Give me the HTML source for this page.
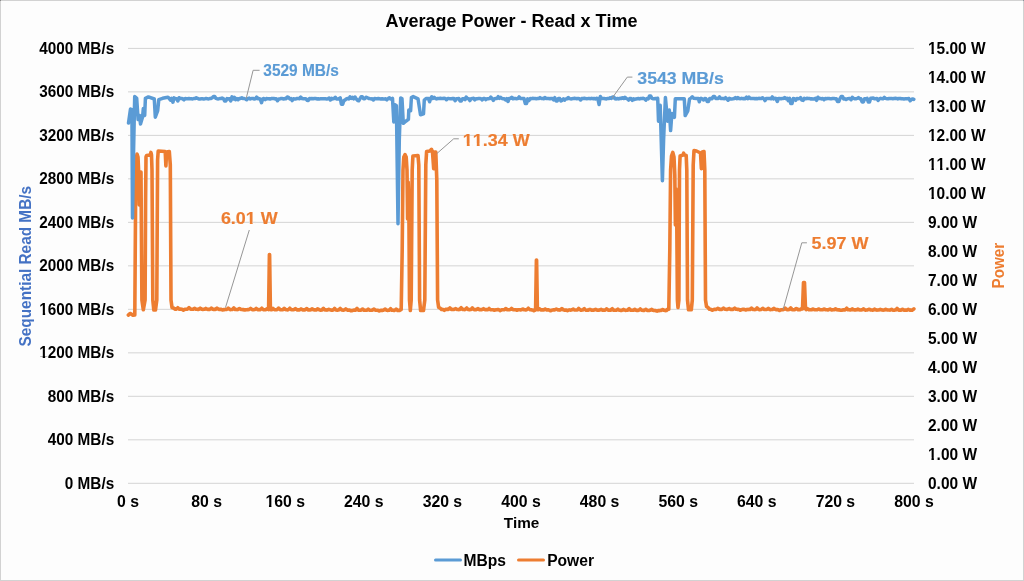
<!DOCTYPE html>
<html><head><meta charset="utf-8"><style>
html,body{margin:0;padding:0;background:#fdfdfd;}
svg{display:block;will-change:transform;}
text{font-family:"Liberation Sans",sans-serif;font-weight:bold;font-kerning:none;}
</style></head><body>
<svg width="1024" height="581" viewBox="0 0 1024 581">
<rect x="0" y="0" width="1024" height="581" fill="#fdfdfd"/>
<rect x="0.5" y="0.5" width="1023" height="580" fill="none" stroke="#d2d2d2" stroke-width="1"/>
<rect x="0" y="0" width="1" height="1" fill="#8a8a8a"/>
<rect x="1023" y="0" width="1" height="1" fill="#8a94a0"/>
<g stroke="#d4d4d4" stroke-width="1" fill="none"><line x1="128" y1="48.40" x2="914" y2="48.40"/><line x1="128" y1="91.89" x2="914" y2="91.89"/><line x1="128" y1="135.38" x2="914" y2="135.38"/><line x1="128" y1="178.87" x2="914" y2="178.87"/><line x1="128" y1="222.36" x2="914" y2="222.36"/><line x1="128" y1="265.85" x2="914" y2="265.85"/><line x1="128" y1="309.34" x2="914" y2="309.34"/><line x1="128" y1="352.83" x2="914" y2="352.83"/><line x1="128" y1="396.32" x2="914" y2="396.32"/><line x1="128" y1="439.81" x2="914" y2="439.81"/><line x1="128" y1="483.30" x2="914" y2="483.30"/></g>
<text x="511.5" y="27" font-size="18" text-anchor="middle" fill="#000">Average Power - Read x Time</text>
<g id="gl" font-size="15.8" fill="#000" text-anchor="end" transform="translate(114.2,0) scale(0.97,1) translate(-114.2,0)"><text x="114.2" y="54.0">4000 MB/s</text><text x="114.2" y="97.5">3600 MB/s</text><text x="114.2" y="141.0">3200 MB/s</text><text x="114.2" y="184.5">2800 MB/s</text><text x="114.2" y="228.0">2400 MB/s</text><text x="114.2" y="271.5">2000 MB/s</text><text x="114.2" y="314.9">1600 MB/s</text><text x="114.2" y="358.4">1200 MB/s</text><text x="114.2" y="401.9">800 MB/s</text><text x="114.2" y="445.4">400 MB/s</text><text x="114.2" y="488.9">0 MB/s</text><rect x="37.06" y="312.85" width="3.46" height="2.95" fill="#fdfdfd"/><rect x="43.00" y="312.85" width="2.88" height="2.95" fill="#fdfdfd"/><rect x="37.06" y="356.35" width="3.46" height="2.95" fill="#fdfdfd"/><rect x="43.00" y="356.35" width="2.88" height="2.95" fill="#fdfdfd"/></g>
<g id="gr" font-size="15.8" fill="#000" transform="translate(928,0) scale(0.98,1) translate(-928,0)"><text x="928" y="53.7">15.00 W</text><text x="928" y="82.7">14.00 W</text><text x="928" y="111.7">13.00 W</text><text x="928" y="140.7">12.00 W</text><text x="928" y="169.7">11.00 W</text><text x="928" y="198.7">10.00 W</text><text x="928" y="227.7">9.00 W</text><text x="928" y="256.7">8.00 W</text><text x="928" y="285.6">7.00 W</text><text x="928" y="314.6">6.00 W</text><text x="928" y="343.6">5.00 W</text><text x="928" y="372.6">4.00 W</text><text x="928" y="401.6">3.00 W</text><text x="928" y="430.6">2.00 W</text><text x="928" y="459.6">1.00 W</text><text x="928" y="488.6">0.00 W</text><rect x="928.07" y="51.65" width="3.46" height="2.95" fill="#fdfdfd"/><rect x="934.01" y="51.65" width="2.88" height="2.95" fill="#fdfdfd"/><rect x="928.07" y="80.65" width="3.46" height="2.95" fill="#fdfdfd"/><rect x="934.01" y="80.65" width="2.88" height="2.95" fill="#fdfdfd"/><rect x="928.07" y="109.65" width="3.46" height="2.95" fill="#fdfdfd"/><rect x="934.01" y="109.65" width="2.88" height="2.95" fill="#fdfdfd"/><rect x="928.07" y="138.65" width="3.46" height="2.95" fill="#fdfdfd"/><rect x="934.01" y="138.65" width="2.88" height="2.95" fill="#fdfdfd"/><rect x="928.07" y="167.65" width="3.46" height="2.95" fill="#fdfdfd"/><rect x="934.01" y="167.65" width="2.88" height="2.95" fill="#fdfdfd"/><rect x="936.84" y="167.65" width="3.46" height="2.95" fill="#fdfdfd"/><rect x="942.78" y="167.65" width="2.88" height="2.95" fill="#fdfdfd"/><rect x="928.07" y="196.65" width="3.46" height="2.95" fill="#fdfdfd"/><rect x="934.01" y="196.65" width="2.88" height="2.95" fill="#fdfdfd"/><rect x="928.07" y="457.55" width="3.46" height="2.95" fill="#fdfdfd"/><rect x="934.01" y="457.55" width="2.88" height="2.95" fill="#fdfdfd"/></g>
<g id="gx" font-size="15.8" fill="#000" text-anchor="middle"><text x="128.0" y="507">0 s</text><text x="206.6" y="507">80 s</text><text x="285.2" y="507">160 s</text><text x="363.8" y="507">240 s</text><text x="442.4" y="507">320 s</text><text x="521.0" y="507">400 s</text><text x="599.6" y="507">480 s</text><text x="678.2" y="507">560 s</text><text x="756.8" y="507">640 s</text><text x="835.4" y="507">720 s</text><text x="914.0" y="507">800 s</text><rect x="265.50" y="504.95" width="3.46" height="2.95" fill="#fdfdfd"/><rect x="271.44" y="504.95" width="2.88" height="2.95" fill="#fdfdfd"/></g>
<text x="521.5" y="528" font-size="15.3" text-anchor="middle" fill="#000">Time</text>
<text transform="translate(31,266.2) rotate(-90)" font-size="15.9" text-anchor="middle" fill="#4472c4" textLength="160.5" lengthAdjust="spacingAndGlyphs">Sequential Read MB/s</text>
<text transform="translate(1003.8,265.7) rotate(-90)" font-size="15.9" text-anchor="middle" fill="#ed7d31" textLength="45.5" lengthAdjust="spacingAndGlyphs">Power</text>
<g fill="none" stroke-linejoin="round" stroke-linecap="round">
<path d="M128.3 315.1 L130.0 313.5 L131.5 314.2 L133.0 315.3 L134.8 315.0 L135.6 200.0 L136.2 160.0 L137.0 154.0 L138.0 157.0 L138.8 175.0 L139.3 205.0 L139.8 180.0 L140.2 172.0 L141.0 172.0 L141.4 230.0 L141.9 300.0 L143.3 309.8 L145.1 300.0 L145.6 200.0 L146.0 157.0 L146.5 155.5 L150.2 155.0 L150.9 152.4 L151.5 155.0 L152.0 170.0 L152.8 300.0 L153.8 310.0 L155.5 310.0 L156.8 300.0 L157.6 160.0 L158.2 151.0 L165.2 151.5 L165.9 166.0 L166.6 152.0 L169.3 151.5 L170.3 165.0 L171.0 300.0 L172.0 307.5 L173.5 308.0 L175.0 309.2 L175.7 309.3 L176.4 309.0 L177.1 308.4 L177.8 307.7 L178.5 308.5 L179.2 309.2 L179.9 309.3 L180.6 309.1 L181.3 309.3 L182.0 309.2 L182.7 309.7 L183.4 310.1 L184.1 309.7 L184.8 309.4 L185.5 309.3 L186.2 309.3 L186.9 309.2 L187.6 309.0 L188.3 308.3 L189.0 307.7 L189.7 308.3 L190.4 309.1 L191.1 309.3 L191.8 309.2 L192.5 309.3 L193.2 309.2 L193.9 308.7 L194.6 308.4 L195.3 308.8 L196.0 309.3 L196.7 309.3 L197.4 309.2 L198.1 309.4 L198.8 309.2 L199.5 308.7 L200.2 308.2 L200.9 308.6 L201.6 309.3 L202.3 309.2 L203.0 309.4 L203.7 309.3 L204.4 309.3 L205.1 309.0 L205.8 308.4 L206.5 308.9 L207.2 309.3 L207.9 309.4 L208.6 309.3 L209.3 309.5 L210.0 309.2 L210.7 308.8 L211.4 308.1 L212.1 308.7 L212.8 309.3 L213.5 309.4 L214.2 309.3 L214.9 309.5 L215.6 309.3 L216.3 308.7 L217.0 308.1 L217.7 308.6 L218.4 309.3 L219.1 309.4 L219.8 309.5 L220.5 309.3 L221.2 309.4 L221.9 309.7 L222.6 310.0 L223.3 309.7 L224.0 309.5 L224.7 309.6 L225.4 309.4 L226.1 309.5 L226.8 309.4 L227.5 308.9 L228.2 308.2 L228.9 308.8 L229.6 309.3 L230.3 309.6 L231.0 309.5 L231.7 309.5 L232.4 309.4 L233.1 308.7 L233.8 307.9 L234.5 308.7 L235.2 309.5 L235.9 309.5 L236.6 309.5 L237.3 309.6 L238.0 309.4 L238.7 308.9 L239.4 308.5 L240.1 308.9 L240.8 309.5 L241.5 309.5 L242.2 309.5 L242.9 309.6 L243.6 309.5 L244.3 310.0 L245.0 310.0 L245.7 309.8 L246.4 309.7 L247.1 309.7 L247.8 309.6 L248.5 309.6 L249.2 309.4 L249.9 308.9 L250.6 308.4 L251.3 308.9 L252.0 309.5 L252.7 309.7 L253.4 309.7 L254.1 309.6 L254.8 309.4 L255.5 309.0 L256.2 308.4 L256.9 309.0 L257.6 309.6 L258.3 309.6 L259.0 309.7 L259.7 309.6 L260.4 309.6 L261.1 308.9 L261.8 308.2 L262.5 308.9 L263.2 309.6 L263.9 309.7 L264.6 309.7 L265.3 309.7 L266.0 309.5 L266.7 309.0 L267.4 308.6 L268.1 309.1 L268.6 309.6 L269.4 254.5 L269.6 254.5 L270.4 309.6 L270.9 309.7 L271.6 309.7 L272.3 309.2 L273.0 308.4 L273.7 309.1 L274.4 309.7 L275.1 309.7 L275.8 309.7 L276.5 309.7 L277.2 309.5 L277.9 308.8 L278.6 308.1 L279.3 308.8 L280.0 309.5 L280.7 309.8 L281.4 309.8 L282.1 309.8 L282.8 309.7 L283.5 309.0 L284.2 308.3 L284.9 309.1 L285.6 309.6 L286.3 309.8 L287.0 309.8 L287.7 309.9 L288.4 309.6 L289.1 308.9 L289.8 308.2 L290.5 309.0 L291.2 309.6 L291.9 309.8 L292.6 309.8 L293.3 309.8 L294.0 309.6 L294.7 309.1 L295.4 308.5 L296.1 309.1 L296.8 309.7 L297.5 309.9 L298.2 309.8 L298.9 309.9 L299.6 309.9 L300.3 309.4 L301.0 308.9 L301.7 309.4 L302.4 309.7 L303.1 310.0 L303.8 309.9 L304.5 310.0 L305.2 309.8 L305.9 309.1 L306.6 308.5 L307.3 309.0 L308.0 309.9 L308.7 309.9 L309.4 310.0 L310.1 309.9 L310.8 309.8 L311.5 309.3 L312.2 308.8 L312.9 309.4 L313.6 309.8 L314.3 309.9 L315.0 309.9 L315.7 310.0 L316.4 309.9 L317.1 309.3 L317.8 308.8 L318.5 309.4 L319.2 309.8 L319.9 310.0 L320.6 310.1 L321.3 310.1 L322.0 309.9 L322.7 309.0 L323.4 308.3 L324.1 309.3 L324.8 309.9 L325.5 309.9 L326.2 309.9 L326.9 310.1 L327.6 309.9 L328.3 309.5 L329.0 309.3 L329.7 309.6 L330.4 309.9 L331.1 310.1 L331.8 310.1 L332.5 310.1 L333.2 310.0 L333.9 309.3 L334.6 308.4 L335.3 309.2 L336.0 309.9 L336.7 310.1 L337.4 310.1 L338.1 310.0 L338.8 309.9 L339.5 309.1 L340.2 308.4 L340.9 309.1 L341.6 309.9 L342.3 310.0 L343.0 310.1 L343.7 310.2 L344.4 309.9 L345.1 309.5 L345.8 308.9 L346.5 309.4 L347.2 310.0 L347.9 310.2 L348.6 310.1 L349.3 310.0 L350.0 310.2 L350.7 310.6 L351.4 310.7 L352.1 310.6 L352.8 310.3 L353.5 310.3 L354.2 310.1 L354.9 310.1 L355.6 310.1 L356.3 309.1 L357.0 308.4 L357.7 309.2 L358.4 310.0 L359.1 310.3 L359.8 310.2 L360.5 310.2 L361.2 310.0 L361.9 309.5 L362.6 309.0 L363.3 309.5 L364.0 310.2 L364.7 310.2 L365.4 310.3 L366.1 310.2 L366.8 310.1 L367.5 309.7 L368.2 309.1 L368.9 309.7 L369.6 310.1 L370.3 310.2 L371.0 310.2 L371.7 310.3 L372.4 310.0 L373.1 309.6 L373.8 309.0 L374.5 309.5 L375.2 310.0 L375.9 310.2 L376.6 310.2 L377.3 310.3 L378.0 310.4 L378.7 310.7 L379.4 310.9 L380.1 310.6 L380.8 310.4 L381.5 310.3 L382.2 310.4 L382.9 310.2 L383.6 310.2 L384.3 309.6 L385.0 309.0 L385.7 309.5 L386.4 310.1 L387.1 310.2 L387.8 310.4 L388.5 310.3 L389.2 310.3 L389.9 309.5 L390.6 308.7 L391.3 309.4 L392.0 310.2 L392.7 310.3 L393.4 310.3 L394.1 310.5 L394.8 310.2 L395.5 309.8 L396.2 309.1 L396.9 309.7 L397.6 310.4 L398.3 310.4 L399.0 310.5 L399.7 310.4 L400.0 310.0 L401.2 309.5 L402.2 250.0 L403.0 170.0 L403.8 157.0 L405.0 154.7 L406.2 157.0 L407.0 170.0 L407.6 219.0 L408.2 182.0 L408.8 200.0 L409.5 300.0 L410.3 310.5 L411.2 300.0 L412.2 170.0 L412.9 156.0 L418.0 155.5 L418.8 165.0 L419.6 300.0 L420.6 310.5 L423.5 310.5 L424.8 300.0 L425.8 165.0 L426.6 151.5 L430.0 150.9 L431.5 149.3 L432.5 152.0 L433.7 168.7 L434.6 152.0 L435.8 152.0 L436.8 180.0 L437.6 300.0 L438.6 307.3 L440.0 308.0 L441.5 309.5 L442.2 309.4 L442.9 309.5 L443.6 309.8 L444.3 310.3 L445.0 309.8 L445.7 309.4 L446.4 309.3 L447.1 309.3 L447.8 309.5 L448.5 309.2 L449.2 308.7 L449.9 307.9 L450.6 308.5 L451.3 309.4 L452.0 309.4 L452.7 309.5 L453.4 309.5 L454.1 309.4 L454.8 309.1 L455.5 308.6 L456.2 308.9 L456.9 309.4 L457.6 309.5 L458.3 309.5 L459.0 309.6 L459.7 309.4 L460.4 308.4 L461.1 307.7 L461.8 308.6 L462.5 309.4 L463.2 309.4 L463.9 309.5 L464.6 309.6 L465.3 309.4 L466.0 308.6 L466.7 308.0 L467.4 308.7 L468.1 309.4 L468.8 309.6 L469.5 309.5 L470.2 309.6 L470.9 309.4 L471.6 308.7 L472.3 307.9 L473.0 308.8 L473.7 309.5 L474.4 309.6 L475.1 309.6 L475.8 309.7 L476.5 309.5 L477.2 309.1 L477.9 308.5 L478.6 309.0 L479.3 309.6 L480.0 309.7 L480.7 309.6 L481.4 309.7 L482.1 309.5 L482.8 309.1 L483.5 308.6 L484.2 309.1 L484.9 309.6 L485.6 309.6 L486.3 309.5 L487.0 309.6 L487.7 309.6 L488.4 309.2 L489.1 308.5 L489.8 309.2 L490.5 309.6 L491.2 309.7 L491.9 309.7 L492.6 309.7 L493.3 309.8 L494.0 310.1 L494.7 310.2 L495.4 309.9 L496.1 309.7 L496.8 309.7 L497.5 309.6 L498.2 309.6 L498.9 309.8 L499.6 310.2 L500.3 310.6 L501.0 310.1 L501.7 309.7 L502.4 309.8 L503.1 309.8 L503.8 309.8 L504.5 309.7 L505.2 309.0 L505.9 308.5 L506.6 309.2 L507.3 309.7 L508.0 309.7 L508.7 309.7 L509.4 309.7 L510.1 309.5 L510.8 309.1 L511.5 308.4 L512.2 309.0 L512.9 309.6 L513.6 309.8 L514.3 309.7 L515.0 309.7 L515.7 309.7 L516.4 310.0 L517.1 310.3 L517.8 309.9 L518.5 309.8 L519.2 309.7 L519.9 309.8 L520.6 309.9 L521.3 309.8 L522.0 309.4 L522.7 309.1 L523.4 309.3 L524.1 309.8 L524.8 309.8 L525.5 309.9 L526.2 309.9 L526.9 309.6 L527.6 308.9 L528.3 308.2 L529.0 308.9 L529.7 309.6 L530.4 309.7 L531.1 309.8 L531.8 310.0 L532.5 310.0 L533.2 310.2 L533.9 310.7 L534.6 310.3 L535.6 309.8 L536.4 260.0 L536.6 260.0 L537.4 309.8 L538.1 309.8 L538.8 309.3 L539.5 308.9 L540.2 309.3 L540.9 309.9 L541.6 310.0 L542.3 309.8 L543.0 309.9 L543.7 309.9 L544.4 309.5 L545.1 309.0 L545.8 309.3 L546.5 309.9 L547.2 310.0 L547.9 309.8 L548.6 309.8 L549.3 310.1 L550.0 310.5 L550.7 310.8 L551.4 310.4 L552.1 310.0 L552.8 310.0 L553.5 309.9 L554.2 309.9 L554.9 309.9 L555.6 309.4 L556.3 309.1 L557.0 309.4 L557.7 309.9 L558.4 309.8 L559.1 309.9 L559.8 310.1 L560.5 309.8 L561.2 309.3 L561.9 308.6 L562.6 309.3 L563.3 309.8 L564.0 310.0 L564.7 310.1 L565.4 310.0 L566.1 310.0 L566.8 310.2 L567.5 310.6 L568.2 310.3 L568.9 310.1 L569.6 309.9 L570.3 310.1 L571.0 310.0 L571.7 309.9 L572.4 309.6 L573.1 309.0 L573.8 309.5 L574.5 309.9 L575.2 310.0 L575.9 310.0 L576.6 310.0 L577.3 309.9 L578.0 309.3 L578.7 308.4 L579.4 309.3 L580.1 309.8 L580.8 310.2 L581.5 310.1 L582.2 310.0 L582.9 309.9 L583.6 309.2 L584.3 308.6 L585.0 309.4 L585.7 310.1 L586.4 310.2 L587.1 310.2 L587.8 310.0 L588.5 310.1 L589.2 309.6 L589.9 309.4 L590.6 309.6 L591.3 310.1 L592.0 310.1 L592.7 310.2 L593.4 310.1 L594.1 310.0 L594.8 309.7 L595.5 309.4 L596.2 309.6 L596.9 310.1 L597.6 310.1 L598.3 310.2 L599.0 310.1 L599.7 310.0 L600.4 309.6 L601.1 309.3 L601.8 309.7 L602.5 310.1 L603.2 310.1 L603.9 310.3 L604.6 310.2 L605.3 310.0 L606.0 309.3 L606.7 308.9 L607.4 309.4 L608.1 310.1 L608.8 310.1 L609.5 310.3 L610.2 310.3 L610.9 310.1 L611.6 309.2 L612.3 308.7 L613.0 309.4 L613.7 310.2 L614.4 310.2 L615.1 310.2 L615.8 310.2 L616.5 310.1 L617.2 309.8 L617.9 309.2 L618.6 309.8 L619.3 310.2 L620.0 310.3 L620.7 310.4 L621.4 310.4 L622.1 310.2 L622.8 309.9 L623.5 309.4 L624.2 309.9 L624.9 310.1 L625.6 310.4 L626.3 310.3 L627.0 310.3 L627.7 310.2 L628.4 309.2 L629.1 308.7 L629.8 309.3 L630.5 310.1 L631.2 310.2 L631.9 310.2 L632.6 310.2 L633.3 310.3 L634.0 309.7 L634.7 309.3 L635.4 309.8 L636.1 310.3 L636.8 310.4 L637.5 310.4 L638.2 310.4 L638.9 310.1 L639.6 309.5 L640.3 308.9 L641.0 309.6 L641.7 310.2 L642.4 310.3 L643.1 310.4 L643.8 310.5 L644.5 310.2 L645.2 309.8 L645.9 309.3 L646.6 309.7 L647.3 310.4 L648.0 310.5 L648.7 310.5 L649.4 310.4 L650.1 310.3 L650.8 309.9 L651.5 309.4 L652.2 309.8 L652.9 310.3 L653.6 310.4 L654.3 310.5 L655.0 310.5 L655.7 310.6 L656.4 310.9 L657.1 311.1 L657.8 310.8 L658.5 310.6 L659.2 310.6 L659.9 310.5 L660.6 310.4 L661.3 310.4 L662.0 309.8 L662.7 309.5 L663.4 310.0 L664.1 310.3 L664.8 310.4 L665.5 310.6 L666.2 310.5 L666.9 310.4 L667.0 309.5 L668.8 309.2 L669.8 250.0 L670.6 170.0 L671.5 156.0 L672.8 152.4 L674.0 157.0 L674.8 175.0 L675.4 225.0 L675.9 188.8 L676.6 200.0 L677.4 300.0 L678.0 307.5 L678.9 300.0 L679.5 170.0 L680.1 156.0 L683.0 155.0 L683.6 153.2 L684.4 155.0 L686.2 155.5 L686.8 170.0 L687.5 300.0 L688.5 309.8 L691.3 309.8 L692.3 300.0 L693.2 165.0 L694.0 150.6 L696.5 151.0 L700.5 153.0 L701.4 168.7 L702.3 152.0 L704.0 151.5 L704.8 170.0 L705.5 300.0 L706.5 306.5 L708.0 307.5 L709.5 309.2 L710.2 309.3 L710.9 309.3 L711.6 309.9 L712.3 310.3 L713.0 309.9 L713.7 309.5 L714.4 309.4 L715.1 309.3 L715.8 309.4 L716.5 309.2 L717.2 308.8 L717.9 308.4 L718.6 308.7 L719.3 309.3 L720.0 309.5 L720.7 309.3 L721.4 309.4 L722.1 309.2 L722.8 308.6 L723.5 308.0 L724.2 308.6 L724.9 309.2 L725.6 309.3 L726.3 309.4 L727.0 309.5 L727.7 309.3 L728.4 308.9 L729.1 308.5 L729.8 308.8 L730.5 309.4 L731.2 309.4 L731.9 309.4 L732.6 309.4 L733.3 309.2 L734.0 308.6 L734.7 308.1 L735.4 308.7 L736.1 309.3 L736.8 309.3 L737.5 309.4 L738.2 309.4 L738.9 309.5 L739.6 309.7 L740.3 310.2 L741.0 309.7 L741.7 309.6 L742.4 309.4 L743.1 309.4 L743.8 309.3 L744.5 309.5 L745.2 309.7 L745.9 310.0 L746.6 309.6 L747.3 309.4 L748.0 309.6 L748.7 309.4 L749.4 309.4 L750.1 309.4 L750.8 308.7 L751.5 308.1 L752.2 308.7 L752.9 309.4 L753.6 309.5 L754.3 309.5 L755.0 309.6 L755.7 309.4 L756.4 308.8 L757.1 307.9 L757.8 308.8 L758.5 309.3 L759.2 309.6 L759.9 309.6 L760.6 309.5 L761.3 309.4 L762.0 308.9 L762.7 308.3 L763.4 308.8 L764.1 309.4 L764.8 309.5 L765.5 309.5 L766.2 309.5 L766.9 309.5 L767.6 308.9 L768.3 308.3 L769.0 309.0 L769.7 309.5 L770.4 309.6 L771.1 309.5 L771.8 309.5 L772.5 309.5 L773.2 309.0 L773.9 308.3 L774.6 309.0 L775.3 309.4 L776.0 309.7 L776.7 309.5 L777.4 309.6 L778.1 309.8 L778.8 310.0 L779.5 310.5 L780.2 310.2 L780.9 309.7 L781.6 309.7 L782.3 309.7 L783.0 309.6 L783.7 309.5 L784.4 308.8 L785.1 308.1 L785.8 308.8 L786.5 309.5 L787.2 309.6 L787.9 309.7 L788.6 309.5 L789.3 309.5 L790.0 308.7 L790.7 307.9 L791.4 308.7 L792.1 309.6 L792.8 309.8 L793.5 309.7 L794.2 309.8 L794.9 309.5 L795.6 309.0 L796.3 308.5 L797.0 308.9 L797.7 309.5 L798.4 309.8 L799.1 309.6 L799.8 309.8 L800.5 309.6 L801.2 308.9 L801.9 308.2 L802.5 308.9 L803.5 282.5 L804.5 282.5 L805.5 308.9 L806.1 309.6 L806.8 309.2 L807.5 308.7 L808.2 309.1 L808.9 309.8 L809.6 309.8 L810.3 309.8 L811.0 309.7 L811.7 309.7 L812.4 309.2 L813.1 309.0 L813.8 309.4 L814.5 309.7 L815.2 309.8 L815.9 309.8 L816.6 309.7 L817.3 309.7 L818.0 309.3 L818.7 309.0 L819.4 309.3 L820.1 309.7 L820.8 309.7 L821.5 309.7 L822.2 309.7 L822.9 309.6 L823.6 309.3 L824.3 309.0 L825.0 309.4 L825.7 309.8 L826.4 309.7 L827.1 309.8 L827.8 309.9 L828.5 309.7 L829.2 309.4 L829.9 309.1 L830.6 309.3 L831.3 309.9 L832.0 309.9 L832.7 309.8 L833.4 309.7 L834.1 309.8 L834.8 309.3 L835.5 308.9 L836.2 309.2 L836.9 309.8 L837.6 309.8 L838.3 310.0 L839.0 309.8 L839.7 310.0 L840.4 310.2 L841.1 310.3 L841.8 310.2 L842.5 310.0 L843.2 309.9 L843.9 309.9 L844.6 309.9 L845.3 309.7 L846.0 308.9 L846.7 308.2 L847.4 308.9 L848.1 309.8 L848.8 309.8 L849.5 309.8 L850.2 310.0 L850.9 309.8 L851.6 309.5 L852.3 308.9 L853.0 309.5 L853.7 309.8 L854.4 309.9 L855.1 310.0 L855.8 309.9 L856.5 309.8 L857.2 309.5 L857.9 309.1 L858.6 309.5 L859.3 309.8 L860.0 310.0 L860.7 310.0 L861.4 309.9 L862.1 309.8 L862.8 309.5 L863.5 308.8 L864.2 309.4 L864.9 310.0 L865.6 310.1 L866.3 310.0 L867.0 310.0 L867.7 310.0 L868.4 309.4 L869.1 309.2 L869.8 309.5 L870.5 309.9 L871.2 310.0 L871.9 310.0 L872.6 310.1 L873.3 310.0 L874.0 309.5 L874.7 309.1 L875.4 309.6 L876.1 309.9 L876.8 310.1 L877.5 310.0 L878.2 310.0 L878.9 310.0 L879.6 309.6 L880.3 309.3 L881.0 309.6 L881.7 309.9 L882.4 310.0 L883.1 310.1 L883.8 310.0 L884.5 310.0 L885.2 309.5 L885.9 309.3 L886.6 309.6 L887.3 310.0 L888.0 310.0 L888.7 310.0 L889.4 310.0 L890.1 310.1 L890.8 309.6 L891.5 309.3 L892.2 309.8 L892.9 310.1 L893.6 310.2 L894.3 310.1 L895.0 310.0 L895.7 310.0 L896.4 309.3 L897.1 308.4 L897.8 309.2 L898.5 310.0 L899.2 310.2 L899.9 310.1 L900.6 310.2 L901.3 310.0 L902.0 309.5 L902.7 309.3 L903.4 309.7 L904.1 310.1 L904.8 310.0 L905.5 310.1 L906.2 310.1 L906.9 310.1 L907.6 309.7 L908.3 309.4 L909.0 309.8 L909.7 310.0 L910.4 310.3 L911.1 310.1 L911.8 310.2 L912.5 310.1 L913.2 309.4 L913.9 308.8" stroke="#ed7d31" stroke-width="3.6"/>
<path d="M128.5 123.0 L130.5 109.0 L131.9 109.6 L132.5 218.0 L133.6 150.0 L134.7 96.5 L136.7 98.3 L138.1 119.6 L139.5 115.5 L140.5 124.1 L142.6 116.8 L143.3 108.6 L144.7 115.5 L145.4 98.3 L148.4 96.9 L154.3 99.0 L155.3 117.2 L157.7 110.7 L158.8 99.6 L162.6 98.3 L166.5 97.5 L168.0 97.3 L169.2 98.4 L170.5 100.2 L171.7 98.4 L172.9 102.2 L174.1 97.9 L175.4 98.8 L176.6 98.7 L177.8 101.0 L179.1 97.7 L180.3 98.6 L181.5 98.5 L182.8 98.8 L184.0 99.8 L185.2 98.5 L186.4 98.7 L187.7 98.8 L188.9 98.6 L190.1 98.8 L191.4 98.7 L192.6 98.9 L193.8 98.6 L195.1 98.5 L196.3 97.7 L197.5 98.4 L198.7 98.9 L200.0 98.9 L201.2 98.8 L202.4 98.7 L203.7 98.9 L204.9 98.7 L206.1 98.4 L207.4 98.8 L208.6 98.9 L209.8 98.6 L211.0 98.4 L212.3 97.7 L213.5 96.5 L214.7 96.5 L216.0 98.4 L217.2 98.7 L218.4 98.9 L219.7 98.6 L220.9 98.6 L222.1 98.0 L223.3 98.5 L224.6 101.0 L225.8 101.0 L227.0 98.6 L228.3 99.0 L229.5 98.7 L230.7 100.9 L232.0 96.8 L233.2 98.9 L234.4 97.3 L235.6 99.7 L236.9 98.5 L238.1 99.6 L239.3 98.5 L240.6 98.4 L241.8 97.8 L243.0 98.6 L244.3 98.5 L245.5 99.0 L246.7 99.8 L247.9 98.6 L249.2 98.1 L250.4 99.0 L251.6 98.5 L252.9 98.4 L254.1 99.0 L255.3 98.8 L256.6 97.2 L257.8 98.7 L259.0 98.6 L260.2 98.9 L261.5 102.6 L262.7 98.9 L263.9 98.5 L265.2 99.6 L266.4 98.6 L267.6 98.8 L268.9 98.7 L270.1 99.0 L271.3 98.6 L272.5 98.5 L273.8 98.5 L275.0 98.9 L276.2 98.7 L277.5 100.7 L278.7 98.9 L279.9 98.9 L281.2 98.5 L282.4 98.6 L283.6 99.0 L284.8 98.6 L286.1 98.8 L287.3 97.0 L288.5 97.4 L289.8 99.0 L291.0 98.6 L292.2 100.6 L293.5 98.8 L294.7 99.0 L295.9 98.9 L297.1 98.5 L298.4 98.6 L299.6 98.8 L300.8 97.1 L302.1 98.6 L303.3 98.8 L304.5 98.7 L305.8 98.7 L307.0 100.2 L308.2 100.5 L309.5 98.5 L310.7 98.8 L311.9 98.6 L313.1 98.7 L314.4 98.5 L315.6 98.5 L316.8 98.9 L318.1 98.7 L319.3 98.9 L320.5 98.8 L321.8 98.7 L323.0 98.7 L324.2 98.7 L325.4 98.8 L326.7 99.0 L327.9 98.7 L329.1 98.0 L330.4 100.0 L331.6 98.4 L332.8 98.9 L334.1 98.5 L335.3 97.3 L336.5 99.0 L337.7 99.0 L339.0 98.7 L340.2 97.8 L341.4 104.3 L342.7 104.3 L343.9 100.5 L345.1 100.1 L346.4 98.8 L347.6 98.4 L348.8 98.9 L350.0 96.8 L351.3 98.4 L352.5 97.4 L353.7 98.9 L355.0 97.0 L356.2 98.7 L357.4 100.3 L358.7 100.8 L359.9 98.8 L361.1 96.8 L362.3 96.8 L363.6 98.7 L364.8 98.7 L366.0 97.3 L367.3 97.6 L368.5 98.4 L369.7 98.6 L371.0 98.9 L372.2 98.7 L373.4 99.9 L374.6 98.4 L375.9 98.7 L377.1 98.7 L378.3 98.5 L379.6 98.7 L380.8 98.9 L382.0 98.7 L383.3 99.0 L384.5 98.9 L385.7 98.8 L386.9 99.8 L388.2 98.4 L389.4 97.7 L390.6 98.9 L391.9 98.8 L392.5 98.3 L393.8 122.0 L395.0 104.8 L396.4 105.7 L398.0 223.7 L399.3 140.0 L400.7 97.9 L402.0 98.8 L403.3 123.3 L405.8 121.2 L408.4 119.4 L408.8 110.0 L410.6 110.8 L411.4 97.5 L413.2 96.6 L418.0 98.8 L420.5 114.7 L423.5 113.8 L424.3 100.0 L426.0 98.6 L428.5 98.6 L429.6 101.8 L430.6 98.4 L431.7 96.8 L432.6 98.4 L433.0 98.4 L434.2 97.4 L435.5 98.5 L436.7 98.9 L437.9 98.4 L439.2 98.5 L440.4 98.3 L441.6 98.6 L442.8 98.4 L444.1 98.3 L445.3 98.4 L446.5 99.7 L447.8 98.4 L449.0 98.6 L450.2 98.7 L451.5 98.8 L452.7 98.5 L453.9 98.4 L455.1 100.7 L456.4 98.8 L457.6 98.7 L458.8 98.4 L460.1 101.0 L461.3 101.0 L462.5 98.7 L463.8 98.7 L465.0 99.6 L466.2 97.0 L467.4 98.6 L468.7 98.7 L469.9 100.6 L471.1 98.7 L472.4 98.6 L473.6 98.3 L474.8 99.8 L476.1 98.7 L477.3 98.7 L478.5 98.6 L479.7 98.6 L481.0 98.8 L482.2 99.9 L483.4 98.5 L484.7 98.5 L485.9 99.6 L487.1 98.7 L488.4 98.7 L489.6 98.6 L490.8 97.1 L492.0 98.4 L493.3 100.4 L494.5 98.8 L495.7 98.6 L497.0 98.4 L498.2 96.6 L499.4 98.4 L500.7 97.4 L501.9 98.6 L503.1 98.7 L504.3 98.8 L505.6 99.9 L506.8 98.6 L508.0 101.5 L509.3 98.5 L510.5 98.3 L511.7 97.3 L513.0 98.7 L514.2 98.5 L515.4 98.5 L516.6 98.7 L517.9 98.6 L519.1 96.9 L520.3 98.5 L521.6 98.4 L522.8 98.6 L524.0 98.5 L525.3 103.5 L526.5 103.5 L527.7 98.9 L528.9 100.6 L530.2 98.6 L531.4 98.7 L532.6 98.3 L533.9 98.4 L535.1 98.5 L536.3 98.7 L537.6 98.5 L538.8 98.5 L540.0 97.6 L541.2 98.4 L542.5 98.6 L543.7 98.8 L544.9 97.6 L546.2 98.4 L547.4 98.4 L548.6 98.5 L549.9 98.8 L551.1 98.5 L552.3 98.6 L553.5 99.8 L554.8 97.7 L556.0 101.0 L557.2 101.0 L558.5 98.4 L559.7 98.6 L560.9 101.0 L562.2 100.2 L563.4 98.8 L564.6 100.1 L565.8 98.9 L567.1 98.8 L568.3 97.5 L569.5 98.6 L570.8 98.9 L572.0 98.7 L573.2 98.6 L574.5 98.3 L575.7 98.4 L576.9 98.7 L578.1 98.4 L579.4 98.7 L580.6 100.0 L581.8 98.6 L583.1 98.4 L584.3 98.3 L585.5 98.6 L586.8 98.7 L588.0 98.6 L589.2 98.4 L590.4 98.7 L591.7 98.3 L592.9 98.7 L594.1 98.5 L595.4 98.9 L596.6 98.3 L597.8 98.6 L599.1 104.5 L600.3 96.5 L601.5 98.4 L602.7 98.5 L604.0 98.4 L605.2 98.8 L606.4 98.9 L607.7 98.4 L608.9 98.6 L610.1 97.8 L611.4 98.4 L612.6 97.0 L613.8 97.0 L615.0 98.8 L616.3 98.9 L617.5 98.5 L618.7 98.9 L620.0 98.3 L621.2 98.5 L622.4 97.7 L623.7 98.5 L624.9 97.3 L626.1 98.4 L627.3 98.8 L628.6 100.1 L629.8 98.5 L631.0 98.4 L632.3 100.3 L633.5 98.8 L634.7 99.4 L636.0 98.9 L637.2 98.7 L638.4 98.5 L639.6 98.9 L640.9 98.5 L642.1 98.5 L643.3 98.3 L644.6 98.8 L645.8 100.1 L647.0 98.6 L648.3 98.9 L649.5 96.0 L650.7 96.0 L651.9 98.4 L653.2 98.7 L654.4 98.8 L655.6 98.5 L656.9 98.5 L657.7 98.3 L658.5 121.2 L660.2 105.2 L661.5 150.0 L662.4 180.7 L663.6 140.0 L665.4 97.5 L667.6 121.2 L669.3 110.0 L670.6 130.6 L671.9 113.4 L674.4 117.3 L675.3 98.8 L684.3 98.8 L685.2 115.6 L687.8 110.8 L689.5 99.2 L691.0 98.0 L692.3 96.8 L693.5 98.2 L696.5 98.4 L698.4 98.6 L699.3 101.8 L700.2 98.6 L701.0 98.3 L702.2 98.8 L703.5 100.0 L704.7 98.5 L705.9 98.8 L707.2 101.5 L708.4 101.5 L709.6 98.6 L710.8 98.6 L712.1 98.7 L713.3 96.6 L714.5 96.6 L715.8 98.5 L717.0 98.5 L718.2 98.4 L719.5 96.9 L720.7 98.6 L721.9 98.5 L723.1 98.6 L724.4 98.8 L725.6 97.7 L726.8 98.8 L728.1 100.2 L729.3 98.4 L730.5 98.9 L731.8 98.9 L733.0 98.8 L734.2 98.5 L735.4 97.6 L736.7 98.7 L737.9 97.6 L739.1 98.5 L740.4 98.7 L741.6 98.3 L742.8 98.7 L744.1 98.5 L745.3 98.8 L746.5 97.2 L747.7 98.6 L749.0 97.0 L750.2 98.5 L751.4 98.5 L752.7 98.5 L753.9 98.5 L755.1 98.8 L756.4 98.5 L757.6 98.7 L758.8 98.3 L760.0 98.6 L761.3 98.5 L762.5 97.8 L763.7 98.6 L765.0 100.6 L766.2 98.5 L767.4 98.4 L768.7 98.6 L769.9 98.4 L771.1 98.8 L772.3 96.9 L773.6 98.9 L774.8 98.3 L776.0 98.5 L777.3 101.5 L778.5 98.4 L779.7 98.4 L781.0 98.8 L782.2 98.4 L783.4 98.5 L784.6 97.5 L785.9 98.7 L787.1 98.3 L788.3 100.8 L789.6 98.4 L790.8 103.5 L792.0 103.5 L793.3 98.6 L794.5 98.7 L795.7 100.3 L796.9 98.6 L798.2 98.8 L799.4 98.6 L800.6 97.7 L801.9 100.1 L803.1 100.4 L804.3 98.3 L805.6 98.8 L806.8 98.3 L808.0 98.5 L809.2 98.4 L810.5 98.9 L811.7 98.8 L812.9 98.9 L814.2 98.9 L815.4 98.4 L816.6 100.3 L817.9 97.2 L819.1 98.5 L820.3 98.4 L821.5 98.9 L822.8 98.5 L824.0 99.7 L825.2 98.4 L826.5 98.7 L827.7 98.4 L828.9 98.4 L830.2 98.7 L831.4 98.8 L832.6 98.6 L833.8 98.4 L835.1 98.7 L836.3 98.8 L837.5 101.5 L838.8 101.5 L840.0 98.6 L841.2 96.5 L842.5 96.5 L843.7 98.9 L844.9 98.7 L846.1 99.5 L847.4 98.7 L848.6 98.6 L849.8 98.4 L851.1 99.7 L852.3 97.4 L853.5 98.4 L854.8 98.7 L856.0 98.7 L857.2 98.4 L858.4 97.6 L859.7 98.7 L860.9 98.8 L862.1 102.0 L863.4 102.0 L864.6 98.7 L865.8 98.9 L867.1 98.4 L868.3 102.0 L869.5 102.0 L870.7 98.3 L872.0 98.3 L873.2 97.9 L874.4 98.7 L875.7 98.7 L876.9 98.4 L878.1 100.5 L879.4 98.8 L880.6 98.3 L881.8 98.7 L883.0 98.7 L884.3 97.4 L885.5 98.3 L886.7 98.7 L888.0 98.8 L889.2 98.5 L890.4 98.6 L891.7 98.6 L892.9 98.7 L894.1 98.4 L895.3 98.3 L896.6 98.4 L897.8 98.9 L899.0 98.5 L900.3 98.5 L901.5 98.8 L902.7 98.7 L904.0 98.9 L905.2 98.8 L906.4 98.8 L907.6 98.7 L908.9 98.5 L910.1 100.8 L911.3 99.5 L912.6 98.9 L913.8 99.4" stroke="#5b9bd5" stroke-width="3.5"/>
</g>
<g stroke="#969696" stroke-width="1" fill="none">
<polyline points="246.2,98.5 253.1,70.3 259.6,70.3"/>
<polyline points="612.1,98.1 627.3,77.1 632.4,77.1"/>
<polyline points="436.7,153.7 453.7,138.8 458.8,138.8"/>
<polyline points="225.5,307.5 249.3,230"/>
<polyline points="783.2,309.4 801.8,242.8 806.9,242.8"/>
</g>
<g id="gd" font-size="15.8" stroke-width="0.15">
<text x="263.3" y="76" fill="#5b9bd5" stroke="#5b9bd5" textLength="75.6" lengthAdjust="spacingAndGlyphs">3529 MB/s</text>
<text x="637.3" y="83.9" fill="#5b9bd5" stroke="#5b9bd5" textLength="86.6" lengthAdjust="spacingAndGlyphs">3543 MB/s</text>
<text x="462.8" y="145.7" fill="#ed7d31" stroke="#ed7d31" textLength="66.8" lengthAdjust="spacingAndGlyphs">11.34 W</text>
<text x="220.9" y="223.9" fill="#ed7d31" stroke="#ed7d31" textLength="56.8" lengthAdjust="spacingAndGlyphs">6.01 W</text>
<text x="811.4" y="249.1" fill="#ed7d31" stroke="#ed7d31" textLength="57" lengthAdjust="spacingAndGlyphs">5.97 W</text>
<rect x="462.88" y="143.65" width="3.94" height="2.95" fill="#fdfdfd"/><rect x="469.63" y="143.65" width="3.27" height="2.95" fill="#fdfdfd"/><rect x="472.85" y="143.65" width="3.94" height="2.95" fill="#fdfdfd"/><rect x="479.60" y="143.65" width="3.27" height="2.95" fill="#fdfdfd"/><rect x="245.89" y="221.85" width="3.94" height="2.95" fill="#fdfdfd"/><line x1="245.89" y1="222.36" x2="249.83" y2="222.36" stroke="#d4d4d4" stroke-width="1"/><rect x="252.64" y="221.85" width="3.27" height="2.95" fill="#fdfdfd"/><line x1="252.64" y1="222.36" x2="255.91" y2="222.36" stroke="#d4d4d4" stroke-width="1"/></g>
<g stroke-width="3" stroke-linecap="round">
<line x1="435.5" y1="560" x2="460.5" y2="560" stroke="#5b9bd5"/>
<line x1="518.5" y1="560" x2="543.5" y2="560" stroke="#ed7d31"/>
</g>
<g font-size="15.6" fill="#000">
<text x="463.6" y="566">MBps</text>
<text x="547.2" y="566">Power</text>
</g>
</svg>
</body></html>
